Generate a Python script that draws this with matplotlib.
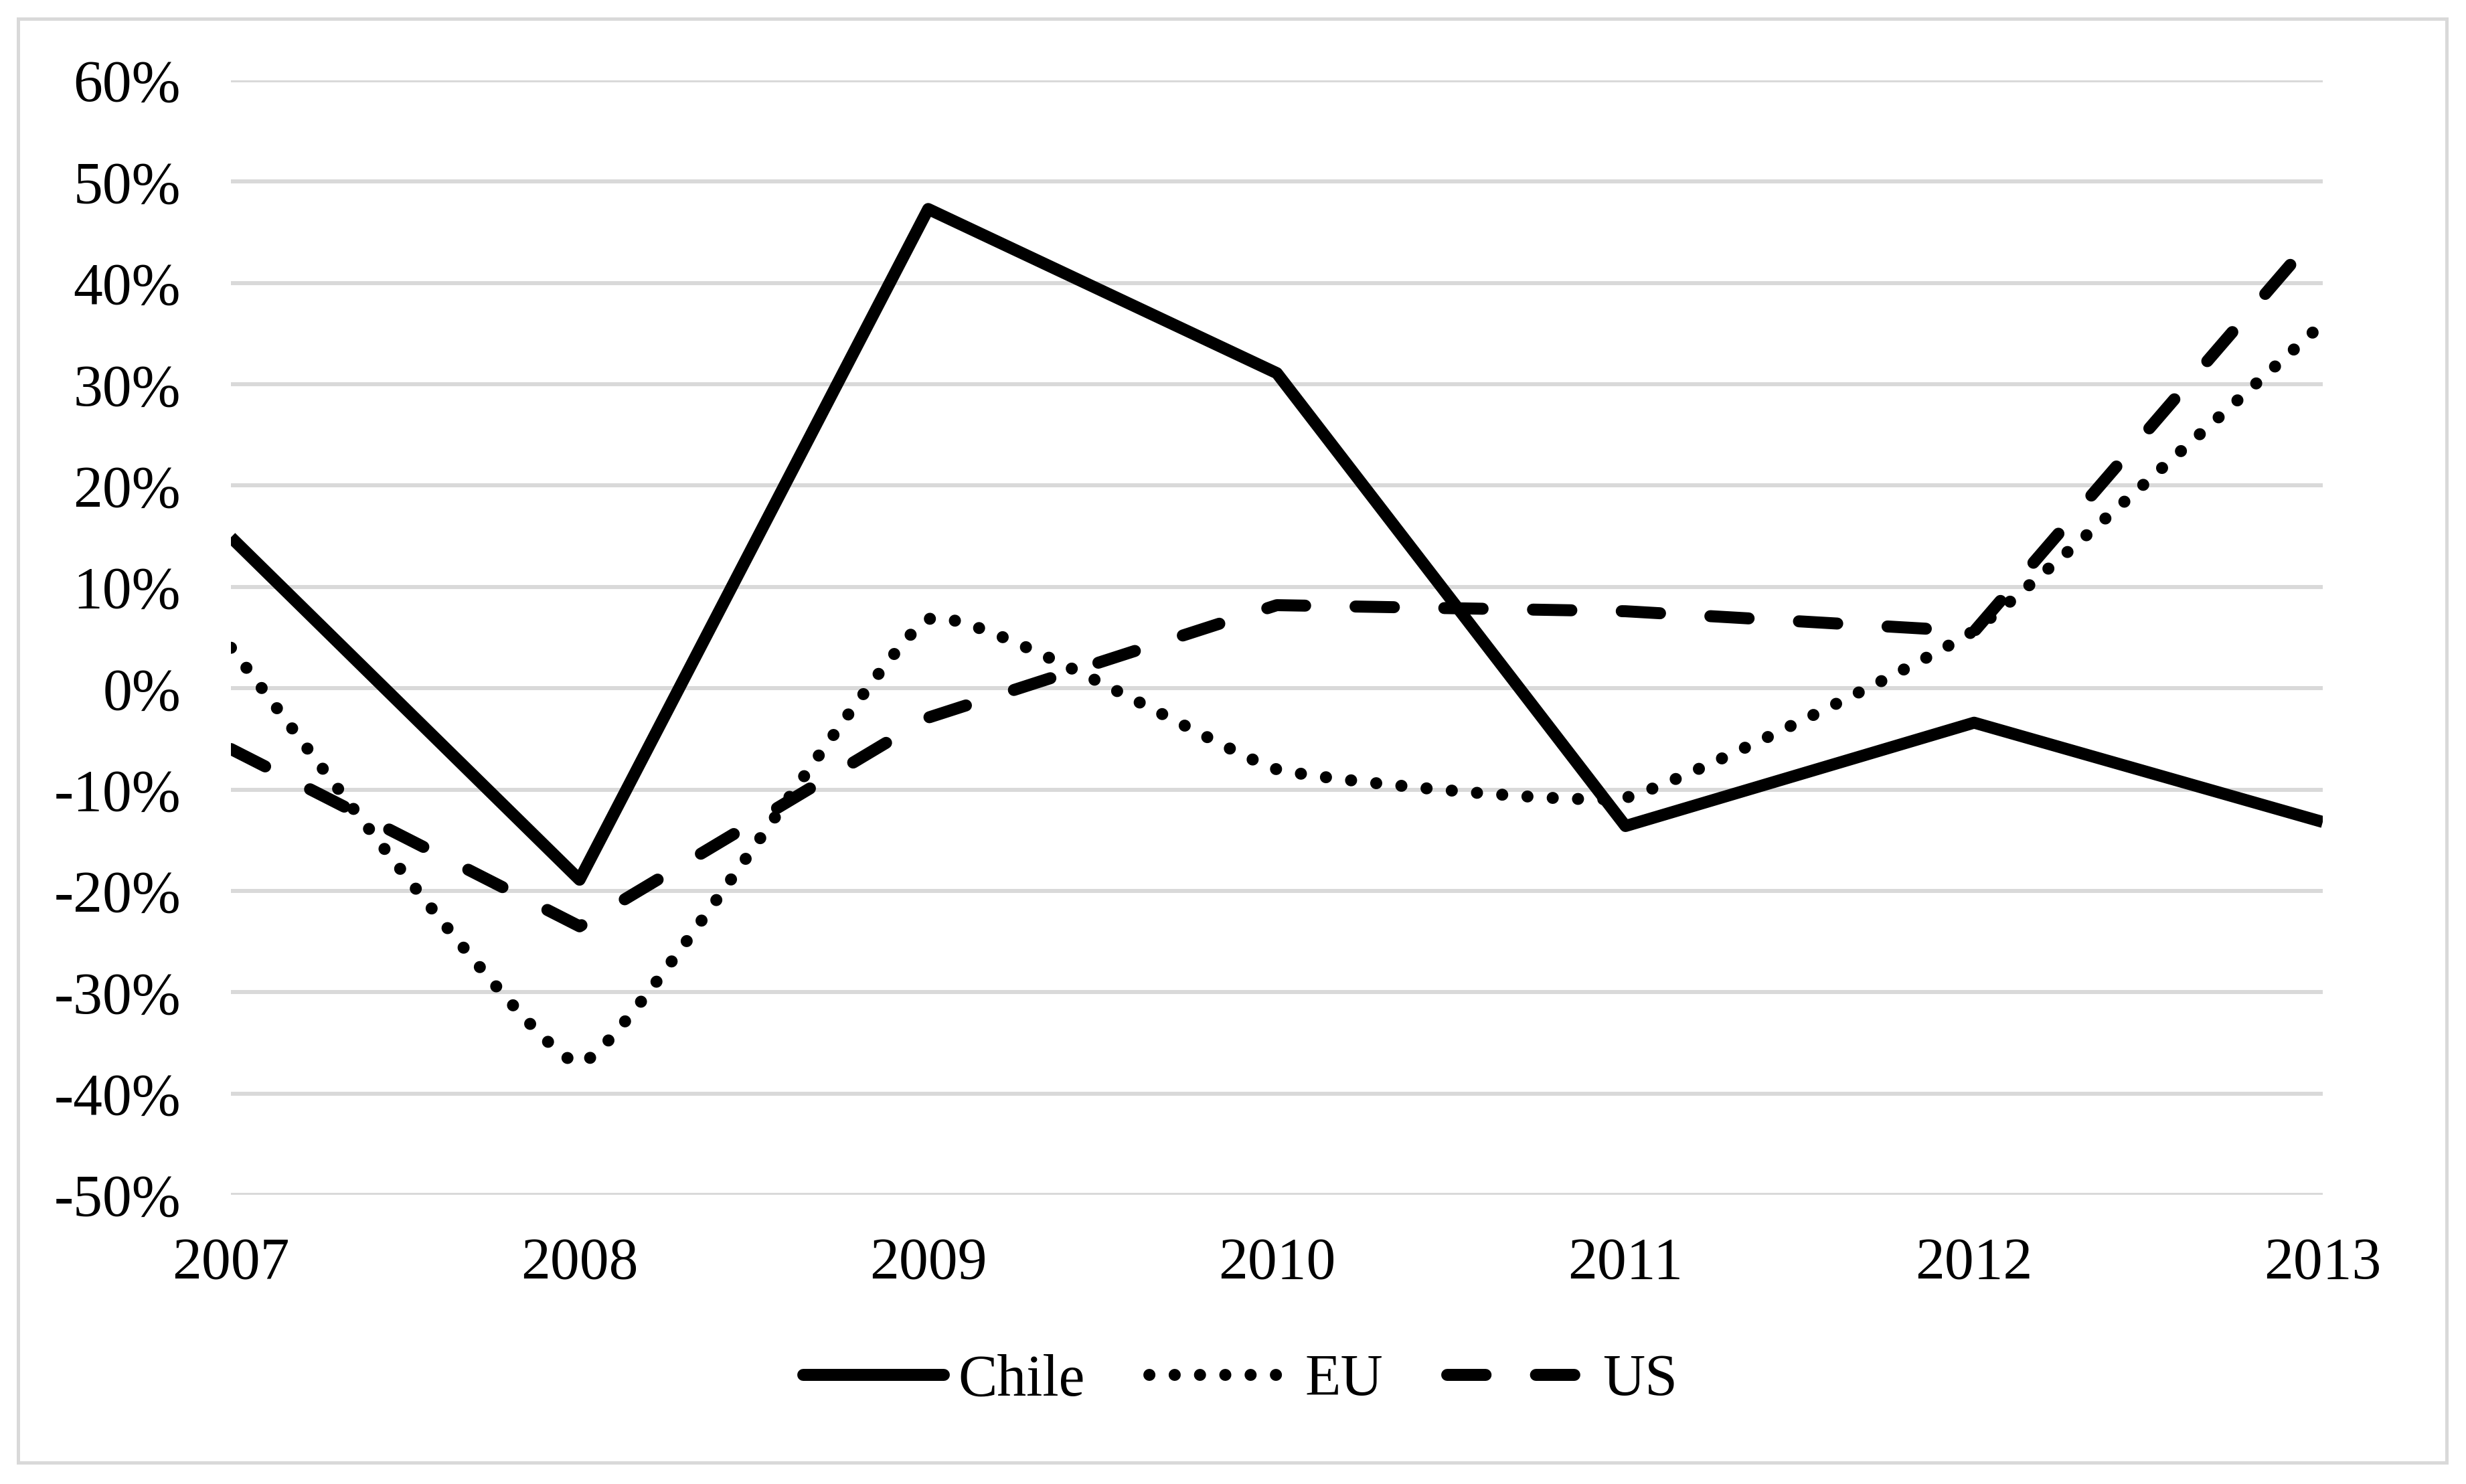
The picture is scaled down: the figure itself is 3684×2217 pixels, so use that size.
import matplotlib
matplotlib.use("Agg")
import matplotlib.pyplot as plt
from matplotlib.path import Path
from matplotlib.patches import PathPatch, Rectangle
from matplotlib.lines import Line2D

# growth rates, % per year
years = [2007, 2008, 2009, 2010, 2011, 2012, 2013]
chile = [14.9, -18.9, 47.3, 31.1, -13.6, -3.4, -13.2]
eu = [4.0, -37.0, 6.8, -8.0, -10.8, 5.7, 36.0]
us = [-6.0, -23.5, -2.9, 8.2, 7.6, 5.6, 45.5]
y_ticks = list(range(-50, 61, 10))

plt.rcParams["font.family"] = ["Liberation Serif", "DejaVu Serif"]

LW = 4.3
GRID = "#D9D9D9"
FS = 21
DASH = (0, (3.2, 4.2))
DOT = (0, (0.01, 2.1))
TENSION = 0.06  # excel smoothing only rounds the corners a little


def smooth_path(xs, ys, k=TENSION):
    # smoothed line: cubic bezier through the points
    n = len(xs)
    verts = [(xs[0], ys[0])]
    codes = [Path.MOVETO]
    for i in range(n - 1):
        xp, yp = (xs[i - 1], ys[i - 1]) if i > 0 else (xs[i], ys[i])
        xn, yn = (xs[i + 2], ys[i + 2]) if i + 2 < n else (xs[i + 1], ys[i + 1])
        c1 = (xs[i] + (xs[i + 1] - xp) * k, ys[i] + (ys[i + 1] - yp) * k)
        c2 = (xs[i + 1] - (xn - xs[i]) * k, ys[i + 1] - (yn - ys[i]) * k)
        verts += [c1, c2, (xs[i + 1], ys[i + 1])]
        codes += [Path.CURVE4] * 3
    return Path(verts, codes)


fig = plt.figure(figsize=(12.28, 7.39), dpi=300)
ax = fig.add_axes([0.09365, 0.19486, 0.84826, 0.75101])

ax.plot(years, chile, color="black", lw=LW, solid_joinstyle="round",
        solid_capstyle="butt")
eu_patch = PathPatch(smooth_path(years, eu), fill=False, edgecolor="black",
                     lw=LW, linestyle=DOT, capstyle="round", joinstyle="round")
ax.add_patch(eu_patch)
ax.plot(years, us, color="black", lw=LW, linestyle=DASH,
        dash_capstyle="round", dash_joinstyle="round")

ax.set_xlim(2007, 2013)
ax.set_ylim(-50, 60)
ax.set_yticks(y_ticks)
ax.set_yticklabels([f"{v}%" for v in y_ticks])
ax.set_xticks(years)
ax.set_xticklabels([str(y) for y in years])
ax.tick_params(axis="y", length=0, pad=18, labelsize=FS)
ax.tick_params(axis="x", length=0, pad=15, labelsize=FS)
for s in ax.spines.values():
    s.set_visible(False)
ax.yaxis.grid(True, color=GRID, lw=1.45)
ax.set_axisbelow(True)

handles = [
    Line2D([], [], color="black", lw=LW, solid_capstyle="round"),
    Line2D([], [], color="black", lw=LW, linestyle=DOT, dash_capstyle="round"),
    Line2D([], [], color="black", lw=LW, linestyle=DASH, dash_capstyle="round"),
]
fig.legend(handles, ["Chile", "EU", "US"], loc="center",
           bbox_to_anchor=(0.503, 0.0695), ncol=3, frameon=False,
           fontsize=FS, handlelength=2.4, handletextpad=0.25,
           columnspacing=1.1)

fig.patches.append(Rectangle((27 / 3684, 1 - 2185 / 2217),
                             (3655 - 27) / 3684, (2185 - 28) / 2217,
                             transform=fig.transFigure, fill=False,
                             edgecolor=GRID, lw=1.2))

fig.savefig("out.png", dpi=300)
